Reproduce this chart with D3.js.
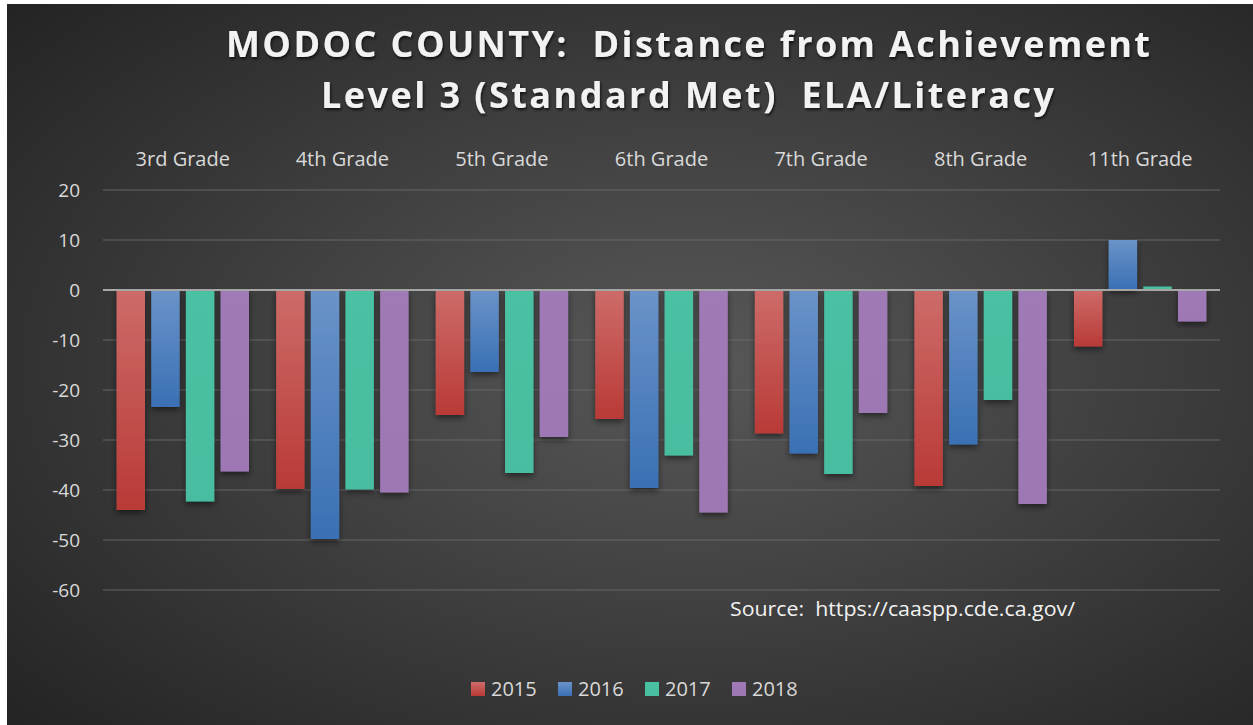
<!DOCTYPE html>
<html>
<head>
<meta charset="utf-8">
<script src="https://cdn.jsdelivr.net/npm/d3@7"></script>
<style>
  body { margin: 0; background: #fff; }
  text { font-family: "Open Sans", sans-serif; white-space: pre; }
</style>
</head>
<body>
<svg id="chart" width="1253" height="725"></svg>
<script>
// Données
const grades = ['3rd Grade', '4th Grade', '5th Grade', '6th Grade', '7th Grade', '8th Grade', '11th Grade'];
const years = ['2015', '2016', '2017', '2018'];
const values2015 = [-44, -39.8, -25, -25.8, -28.7, -39.2, -11.3];
const values2016 = [-23.4, -49.8, -16.4, -39.6, -32.7, -30.9, 10];
const values2017 = [-42.3, -39.9, -36.6, -33.1, -36.8, -22, 0.7];
const values2018 = [-36.3, -40.5, -29.4, -44.5, -24.6, -42.8, -6.3];
const yTicks = [20, 10, 0, -10, -20, -30, -40, -50, -60];

const series = [values2015, values2016, values2017, values2018];
const colors = [
    { top: '#cd6c69', bottom: '#b93a37' },
    { top: '#6a93c9', bottom: '#3a70b4' },
    { top: '#48c1a2', bottom: '#48bd9f' },
    { top: '#a07ab7', bottom: '#9d78b5' }
];

const svg = d3.select('#chart');
const defs = svg.append('defs');

// Fond dégradé radial
const bg = defs.append('radialGradient')
    .attr('id', 'bg')
    .attr('cx', '55%').attr('cy', '50%').attr('r', '75%');
bg.append('stop').attr('offset', '0%').attr('stop-color', '#585858');
bg.append('stop').attr('offset', '100%').attr('stop-color', '#232323');

colors.forEach(function (c, i) {
    const g = defs.append('linearGradient')
        .attr('id', 'bar' + i)
        .attr('x1', 0).attr('y1', 0).attr('x2', 0).attr('y2', 1);
    g.append('stop').attr('offset', '0%').attr('stop-color', c.top);
    g.append('stop').attr('offset', '100%').attr('stop-color', c.bottom);
});

const shadow = defs.append('filter').attr('id', 'shadow')
    .attr('x', '-20%').attr('y', '-10%').attr('width', '140%').attr('height', '130%');
shadow.append('feDropShadow')
    .attr('dx', 0).attr('dy', 3).attr('stdDeviation', 3)
    .attr('flood-color', '#000').attr('flood-opacity', 0.5);

const titleShadow = defs.append('filter').attr('id', 'tshadow');
titleShadow.append('feDropShadow')
    .attr('dx', 1).attr('dy', 2).attr('stdDeviation', 1.5)
    .attr('flood-color', '#000').attr('flood-opacity', 0.7);

svg.append('rect')
    .attr('x', 7).attr('y', 4)
    .attr('width', 1246).attr('height', 721)
    .attr('fill', 'url(#bg)');

// Titre
const title = svg.append('g').attr('filter', 'url(#tshadow)')
    .attr('fill', '#f2f2f2')
    .style('font-weight', 'bold')
    .style('font-size', '36px');
title.append('text')
    .attr('x', 226).attr('y', 57)
    .attr('textLength', 924).attr('lengthAdjust', 'spacing')
    .text('MODOC COUNTY:  Distance from Achievement');
title.append('text')
    .attr('x', 321).attr('y', 108)
    .attr('textLength', 733).attr('lengthAdjust', 'spacing')
    .text('Level 3 (Standard Met)  ELA/Literacy');

// Échelles
const x0 = d3.scaleBand()
    .domain(grades)
    .range([103, 1220])
    .paddingInner(0.17)
    .paddingOuter(0.085);

const x1 = d3.scaleBand()
    .domain(years)
    .range([0, x0.bandwidth()])
    .paddingInner(0.18);

const y = d3.scaleLinear()
    .domain([-60, 20])
    .range([590, 190]);

// Grille
svg.append('g')
    .selectAll('line')
    .data(yTicks.filter(d => d !== 0))
    .enter()
    .append('line')
    .attr('x1', 103).attr('x2', 1220)
    .attr('y1', d => y(d)).attr('y2', d => y(d))
    .attr('stroke', '#6a6a6a')
    .attr('stroke-opacity', 0.6)
    .attr('stroke-width', 1.5);

// Axe Y
const yAxis = svg.append('g')
    .attr('transform', 'translate(80,0)')
    .call(d3.axisLeft(y).tickValues(yTicks).tickSize(0).tickPadding(0).tickFormat(d => String(d)));
yAxis.select('.domain').remove();
yAxis.selectAll('text')
    .attr('fill', '#d9d9d9')
    .style('font-size', '19px')
    .style('font-family', '"Open Sans", sans-serif');

// Étiquettes de catégories en haut
svg.append('g')
    .selectAll('text')
    .data(grades)
    .enter()
    .append('text')
    .attr('x', d => x0(d) + x0.bandwidth() / 2)
    .attr('y', 166)
    .attr('text-anchor', 'middle')
    .attr('fill', '#d9d9d9')
    .style('font-size', '20px')
    .text(d => d);

// Barres
const groups = svg.append('g')
    .selectAll('g')
    .data(grades)
    .enter()
    .append('g')
    .attr('transform', d => `translate(${x0(d)},0)`);

groups.selectAll('rect')
    .data((g, gi) => years.map((yr, si) => ({ year: yr, si: si, value: series[si][gi] })))
    .enter()
    .append('rect')
    .attr('x', d => x1(d.year))
    .attr('width', x1.bandwidth())
    .attr('y', d => y(Math.max(0, d.value)))
    .attr('height', d => Math.abs(y(d.value) - y(0)))
    .attr('fill', d => `url(#bar${d.si})`)
    .attr('filter', 'url(#shadow)');

// Ligne zéro
svg.append('line')
    .attr('x1', 103).attr('x2', 1220)
    .attr('y1', y(0)).attr('y2', y(0))
    .attr('stroke', '#a6a6a6')
    .attr('stroke-width', 2);

// Source
svg.append('text')
    .attr('x', 730).attr('y', 616)
    .attr('fill', '#f2f2f2')
    .style('font-size', '20px')
    .attr('textLength', 345).attr('lengthAdjust', 'spacingAndGlyphs')
    .text('Source:  https://caaspp.cde.ca.gov/');

// Légende
const legendX = [471, 558, 645, 732];
const legend = svg.append('g')
    .selectAll('g')
    .data(years)
    .enter()
    .append('g')
    .attr('transform', (d, i) => `translate(${legendX[i]},682)`);
legend.append('rect')
    .attr('width', 14).attr('height', 14)
    .attr('fill', (d, i) => `url(#bar${i})`);
legend.append('text')
    .attr('x', 20).attr('y', 14)
    .attr('fill', '#d9d9d9')
    .style('font-size', '20px')
    .text(d => d);
</script>
</body>
</html>
